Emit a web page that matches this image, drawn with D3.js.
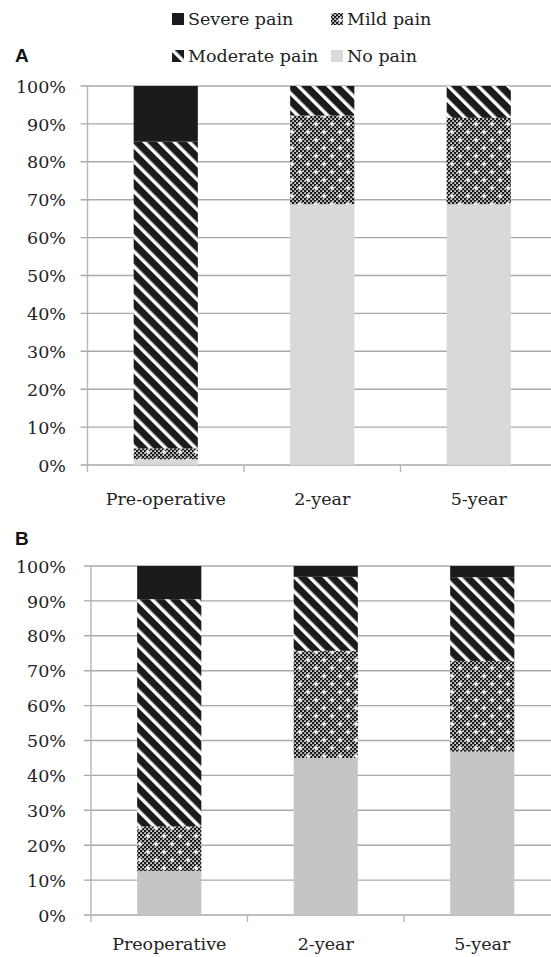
<!DOCTYPE html>
<html>
<head>
<meta charset="utf-8">
<script src="https://cdn.jsdelivr.net/npm/d3@7"></script>
<style>
  html, body { margin: 0; padding: 0; background: #fff; }
  svg { display: block; }
</style>
</head>
<body>
<svg id="chart" width="551" height="957"></svg>
<script>
// ---- data ----
const categoriesA = ["Pre-operative", "2-year", "5-year"];
const categoriesB = ["Preoperative", "2-year", "5-year"];
const seriesKeys = ["noPain", "mild", "moderate", "severe"];
const legendLabels = ["Severe pain", "Mild pain", "Moderate pain", "No pain"];

const noPainA   = [1.5, 68.8, 68.8];
const mildA     = [2.9, 23.4, 22.8];
const moderateA = [80.9, 7.8, 8.4];
const severeA   = [14.7, 0.0, 0.0];

const noPainB   = [12.6, 45.0, 46.8];
const mildB     = [12.8, 30.7, 26.0];
const moderateB = [65.1, 21.2, 24.0];
const severeB   = [9.5, 3.1, 3.2];

const yTickValues = [0, 10, 20, 30, 40, 50, 60, 70, 80, 90, 100];

// ---- setup ----
const svg = d3.select("#chart");
const defs = svg.append("defs");
const SERIF = "'DejaVu Serif', serif";
const FS = 17.5;
const DARK = "#1b1b1b";

// moderate: diagonal stripes "\"
const pStripe = defs.append("pattern")
  .attr("id", "pat-moderate").attr("patternUnits", "userSpaceOnUse")
  .attr("width", 10.6).attr("height", 10.6)
  .attr("patternTransform", "rotate(-45)");
pStripe.append("rect").attr("width", 10.6).attr("height", 10.6).attr("fill", DARK);
pStripe.append("rect").attr("x", 0).attr("width", 3.4).attr("height", 10.6).attr("fill", "#fff");

// mild: fine dark grid with white dots and white crosses
const pMild = defs.append("pattern")
  .attr("id", "pat-mild").attr("patternUnits", "userSpaceOnUse")
  .attr("width", 16).attr("height", 16);
pMild.append("rect").attr("width", 16).attr("height", 16).attr("fill", DARK);
for (let i = 0; i < 8; i++) {
  for (let j = 0; j < 8; j++) {
    if ((i + j) % 2 === 0) {
      pMild.append("rect").attr("x", i * 2 + 0.3).attr("y", j * 2 + 0.3)
        .attr("width", 1.6).attr("height", 1.6).attr("fill", "#fff");
    }
  }
}
[[4, 4], [12, 12]].forEach(([cx, cy]) => {
  pMild.append("rect").attr("x", cx - 2.5).attr("y", cy - 0.75).attr("width", 5).attr("height", 1.5).attr("fill", "#fff");
  pMild.append("rect").attr("x", cx - 0.75).attr("y", cy - 2.5).attr("width", 1.5).attr("height", 5).attr("fill", "#fff");
});

function fillFor(key, panel) {
  if (key === "severe") return DARK;
  if (key === "moderate") return "url(#pat-moderate)";
  if (key === "mild") return "url(#pat-mild)";
  return panel === "A" ? "#d9d9d9" : "#c5c5c7";
}

// ---- legend ----
const legendItems = [
  { label: legendLabels[0], key: "severe",   x: 172, y: 25 },
  { label: legendLabels[1], key: "mild",     x: 331, y: 25 },
  { label: legendLabels[2], key: "moderate", x: 172, y: 62 },
  { label: legendLabels[3], key: "noPain",   x: 331, y: 62 }
];
const lg = svg.append("g");
legendItems.forEach(d => {
  lg.append("rect").attr("x", d.x).attr("y", d.y - 12).attr("width", 12).attr("height", 12)
    .attr("fill", d.key === "noPain" ? "#d9d9d9" : fillFor(d.key, "A"));
  lg.append("text").attr("x", d.x + 16).attr("y", d.y)
    .attr("font-family", SERIF).attr("font-size", FS).attr("fill", "#222")
    .text(d.label);
});

// ---- panel drawer ----
function drawPanel(opts) {
  const { cats, noPain, mild, moderate, severe, panel, x0, x1, yTop, yBottom, labelY, titleY } = opts;
  const rows = cats.map((c, i) => ({ cat: c, noPain: noPain[i], mild: mild[i], moderate: moderate[i], severe: severe[i] }));
  const stacked = d3.stack().keys(seriesKeys)(rows);

  const x = d3.scaleBand().domain(cats).range([x0, x1]).paddingInner(0.59).paddingOuter(0.295);
  const y = d3.scaleLinear().domain([0, 100]).range([yBottom, yTop]);

  const g = svg.append("g");

  // panel title
  g.append("text").attr("x", 15).attr("y", titleY)
    .attr("font-family", "'Liberation Sans', Arial, sans-serif").attr("font-weight", "bold")
    .attr("font-size", 19).attr("fill", "#111").text(panel);

  // gridlines
  g.append("g").selectAll("line").data(yTickValues).join("line")
    .attr("x1", x0 - 7).attr("x2", 551)
    .attr("y1", d => y(d)).attr("y2", d => y(d))
    .attr("stroke", "#a9a9a9").attr("stroke-width", 1.4);

  // y axis labels
  const yAxis = d3.axisLeft(y).tickValues(yTickValues).tickFormat(d => d + "%").tickSize(0).tickPadding(0);
  const ya = g.append("g").attr("transform", `translate(66,0)`).call(yAxis);
  ya.select(".domain").remove();
  ya.selectAll("text").attr("font-family", SERIF).attr("font-size", FS).attr("fill", "#222").attr("dy", "0.35em");

  // vertical axis line
  g.append("line").attr("x1", x0).attr("x2", x0).attr("y1", yTop).attr("y2", yBottom + 7)
    .attr("stroke", "#b5b5b5").attr("stroke-width", 1.4);

  // category ticks
  const bounds = cats.map(c => x(c) - x.step() * 0.295).concat([x1]);
  g.append("g").selectAll("line").data(bounds.slice(1)).join("line")
    .attr("x1", d => d).attr("x2", d => d).attr("y1", yBottom).attr("y2", yBottom + 7)
    .attr("stroke", "#b5b5b5").attr("stroke-width", 1.4);

  // bars
  stacked.forEach(layer => {
    g.append("g").selectAll("rect").data(layer).join("rect")
      .attr("x", d => x(d.data.cat))
      .attr("width", x.bandwidth())
      .attr("y", d => y(d[1]))
      .attr("height", d => Math.max(0, y(d[0]) - y(d[1])))
      .attr("fill", fillFor(layer.key, panel));
  });

  // x labels
  const xAxis = d3.axisBottom(x).tickSize(0).tickPadding(0);
  const xa = g.append("g").attr("transform", `translate(0,${labelY})`).call(xAxis);
  xa.select(".domain").remove();
  xa.selectAll("text").attr("font-family", SERIF).attr("font-size", FS).attr("fill", "#222").attr("dy", 0);
}

drawPanel({ cats: categoriesA, noPain: noPainA, mild: mildA, moderate: moderateA, severe: severeA,
  panel: "A", x0: 87.5, x1: 557, yTop: 86, yBottom: 465, labelY: 505, titleY: 62 });

drawPanel({ cats: categoriesB, noPain: noPainB, mild: mildB, moderate: moderateB, severe: severeB,
  panel: "B", x0: 91, x1: 560.5, yTop: 566, yBottom: 915, labelY: 950, titleY: 545 });
</script>
</body>
</html>
